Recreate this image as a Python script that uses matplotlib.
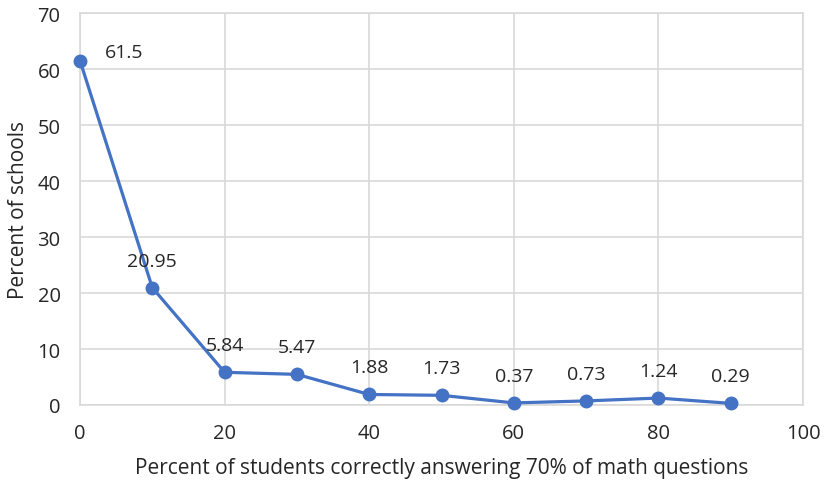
import numpy as np
import matplotlib.pyplot as plt

plt.rcParams['font.family'] = ['Open Sans', 'DejaVu Sans']

# data
pct_students = [0, 10, 20, 30, 40, 50, 60, 70, 80, 90]
pct_schools = [61.5, 20.95, 5.84, 5.47, 1.88, 1.73, 0.37, 0.73, 1.24, 0.29]
labels = ['61.5', '20.95', '5.84', '5.47', '1.88', '1.73', '0.37', '0.73', '1.24', '0.29']

blue = '#4472C4'
grid = '#D9D9D9'
txt = '#262626'

fig = plt.figure(figsize=[8.26, 4.85], dpi=100)
ax = fig.add_axes([80/826, 79/485, 723/826, 392/485])

ax.plot(pct_students, pct_schools, color=blue, lw=2.3, marker='o', ms=9, zorder=3, clip_on=False)

# data labels
for i, (x, y) in enumerate(zip(pct_students, pct_schools)):
    if i == 0:
        ax.annotate(labels[i], (x, y), xytext=(18, 0), textcoords='offset points',
                    ha='left', va='bottom', fontsize=14, color=txt)
    else:
        ax.annotate(labels[i], (x, y), xytext=(0, 13), textcoords='offset points',
                    ha='center', va='bottom', fontsize=14, color=txt)

ax.set_xlim(0, 100)
ax.set_ylim(0, 70)
ax.set_xticks(np.arange(0, 101, 20))
ax.set_yticks(np.arange(0, 71, 10))
ax.grid(True, color=grid, lw=1.2)
ax.set_axisbelow(True)
for s in ax.spines.values():
    s.set_color(grid)
    s.set_linewidth(1.2)
ax.tick_params(length=0, labelsize=14.5, colors=txt)
ax.tick_params(axis='y', pad=14)
ax.tick_params(axis='x', pad=13)
ax.set_xlabel('Percent of students correctly answering 70% of math questions', fontsize=15, color=txt, labelpad=10)
ax.set_ylabel('Percent of schools', fontsize=15, color=txt, labelpad=6)

fig.savefig('out.png', dpi=100)
